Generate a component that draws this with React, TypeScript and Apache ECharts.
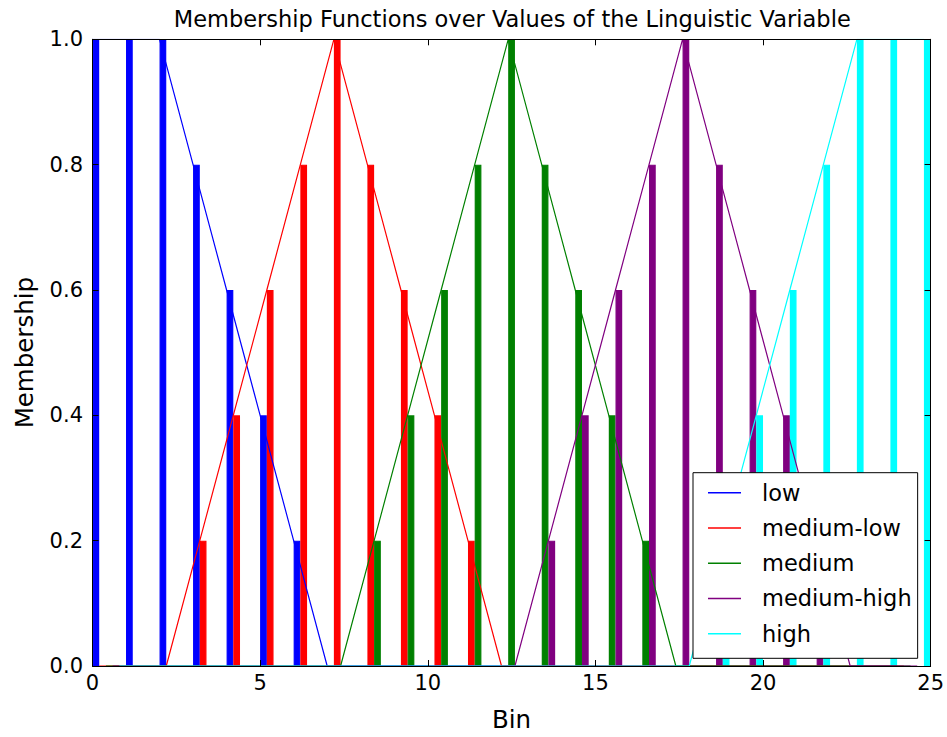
import React, { useEffect, useRef } from "react";
import * as echarts from "echarts";

const bins = [0, 1, 2, 3, 4, 5, 6, 7, 8, 9, 10, 11, 12, 13, 14, 15, 16, 17, 18, 19, 20, 21, 22, 23, 24];
const seriesNames = ["low", "medium-low", "medium", "medium-high", "high"];
const lowValues = [1, 1, 1, 0.8, 0.6, 0.4, 0.2, 0, 0, 0, 0, 0, 0, 0, 0, 0, 0, 0, 0, 0, 0, 0, 0, 0, 0];
const mediumLowValues = [0, 0, 0, 0.2, 0.4, 0.6, 0.8, 1, 0.8, 0.6, 0.4, 0.2, 0, 0, 0, 0, 0, 0, 0, 0, 0, 0, 0, 0, 0];
const mediumValues = [0, 0, 0, 0, 0, 0, 0, 0, 0.2, 0.4, 0.6, 0.8, 1, 0.8, 0.6, 0.4, 0.2, 0, 0, 0, 0, 0, 0, 0, 0];
const mediumHighValues = [0, 0, 0, 0, 0, 0, 0, 0, 0, 0, 0, 0, 0, 0.2, 0.4, 0.6, 0.8, 1, 0.8, 0.6, 0.4, 0.2, 0, 0, 0];
const highValues = [0, 0, 0, 0, 0, 0, 0, 0, 0, 0, 0, 0, 0, 0, 0, 0, 0, 0, 0.2, 0.4, 0.6, 0.8, 1, 1, 1];
const allValues = [lowValues, mediumLowValues, mediumValues, mediumHighValues, highValues];
const colors = ["#0000ff", "#ff0000", "#008000", "#800080", "#00ffff"];

const W = 947;
const H = 737;
const GRID = { left: 92.5, right: 15, top: 39.3, bottom: 67.7 };
const X_MAX = 25;
const BAR_SPAN = 0.2; // width of each bar in data units
const FONT = "DejaVu Sans";

export default function App() {
  const ref = useRef<HTMLDivElement>(null);

  useEffect(() => {
    if (!ref.current) return;
    const chart = echarts.init(ref.current, undefined, { renderer: "svg" });
    const plotW = W - GRID.left - GRID.right;
    const barPx = (BAR_SPAN * plotW) / X_MAX;

    const barSeries = allValues.map((vals, k) => ({
      type: "bar",
      name: seriesNames[k] + " bins",
      xAxisIndex: 0,
      yAxisIndex: 0,
      barWidth: barPx,
      barGap: "-100%",
      data: bins
        .map((b, i) => [b + k * BAR_SPAN + BAR_SPAN / 2, vals[i]])
        .filter((d) => d[1] > 0),
      itemStyle: { color: colors[k], borderColor: colors[k], borderWidth: 1.2 },
      z: 2,
    }));

    const lineSeries = allValues.map((vals, k) => ({
      type: "line",
      name: seriesNames[k],
      xAxisIndex: 0,
      yAxisIndex: 0,
      symbol: "none",
      showSymbol: false,
      data: bins.map((b, i) => [b + k * BAR_SPAN, vals[i]]),
      lineStyle: { color: colors[k], width: 1.2 },
      itemStyle: { color: colors[k] },
      z: 2,
    }));

    const tickStyle = { inside: true, length: 6, lineStyle: { color: "#000", width: 1 } };
    const lineStyle = { show: true, onZero: false, lineStyle: { color: "#000", width: 1 } };

    chart.setOption({
      animation: false,
      backgroundColor: "#fff",
      title: {
        text: "Membership Functions over Values of the Linguistic Variable",
        left: GRID.left + plotW / 2,
        textAlign: "center",
        top: 7,
        padding: 0,
        textStyle: { fontFamily: FONT, fontSize: 22.5, fontWeight: "normal", color: "#000", lineHeight: 24 },
      },
      grid: { ...GRID, containLabel: false },
      legend: {
        orient: "vertical",
        left: 693,
        top: 472.7,
        data: seriesNames.map((n) => ({ name: n, icon: "rect" })),
        itemWidth: 33,
        itemHeight: 1.6,
        itemGap: 11.25,
        padding: [8, 6, 12.6, 15],
        backgroundColor: "#fff",
        borderColor: "#000",
        borderWidth: 1,
        borderRadius: 0,
        textStyle: { fontFamily: FONT, fontSize: 22.5, color: "#000", lineHeight: 24, padding: [0, 0, 0, 16] },
      },
      xAxis: [
        {
          type: "value",
          min: 0,
          max: X_MAX,
          interval: 5,
          position: "bottom",
          z: 3,
          axisLine: lineStyle,
          axisTick: tickStyle,
          splitLine: { show: false },
          axisLabel: { fontFamily: FONT, fontSize: 21, color: "#000", margin: 6.5 },
          name: "Bin",
          nameLocation: "middle",
          nameGap: 41,
          nameTextStyle: { fontFamily: FONT, fontSize: 24.5, color: "#000" },
        },
        {
          type: "value",
          min: 0,
          max: X_MAX,
          interval: 5,
          position: "top",
          z: 3,
          axisLine: lineStyle,
          axisTick: tickStyle,
          splitLine: { show: false },
          axisLabel: { show: false },
        },
      ],
      yAxis: [
        {
          type: "value",
          min: 0,
          max: 1,
          interval: 0.2,
          position: "left",
          z: 3,
          axisLine: lineStyle,
          axisTick: tickStyle,
          splitLine: { show: false },
          axisLabel: {
            fontFamily: FONT,
            fontSize: 21,
            color: "#000",
            margin: 9.5,
            formatter: (v: number) => v.toFixed(1),
          },
          name: "Membership",
          nameLocation: "middle",
          nameGap: 56,
          nameRotate: 90,
          nameTextStyle: { fontFamily: FONT, fontSize: 24.5, color: "#000" },
        },
        {
          type: "value",
          min: 0,
          max: 1,
          interval: 0.2,
          position: "right",
          z: 3,
          axisLine: lineStyle,
          axisTick: tickStyle,
          splitLine: { show: false },
          axisLabel: { show: false },
        },
      ],
      series: [...barSeries, ...lineSeries],
    });
    return () => chart.dispose();
  }, []);

  return (
    <div
      ref={ref}
      style={{ position: "absolute", left: 0, top: 0, width: W, height: H, background: "#fff" }}
    />
  );
}
